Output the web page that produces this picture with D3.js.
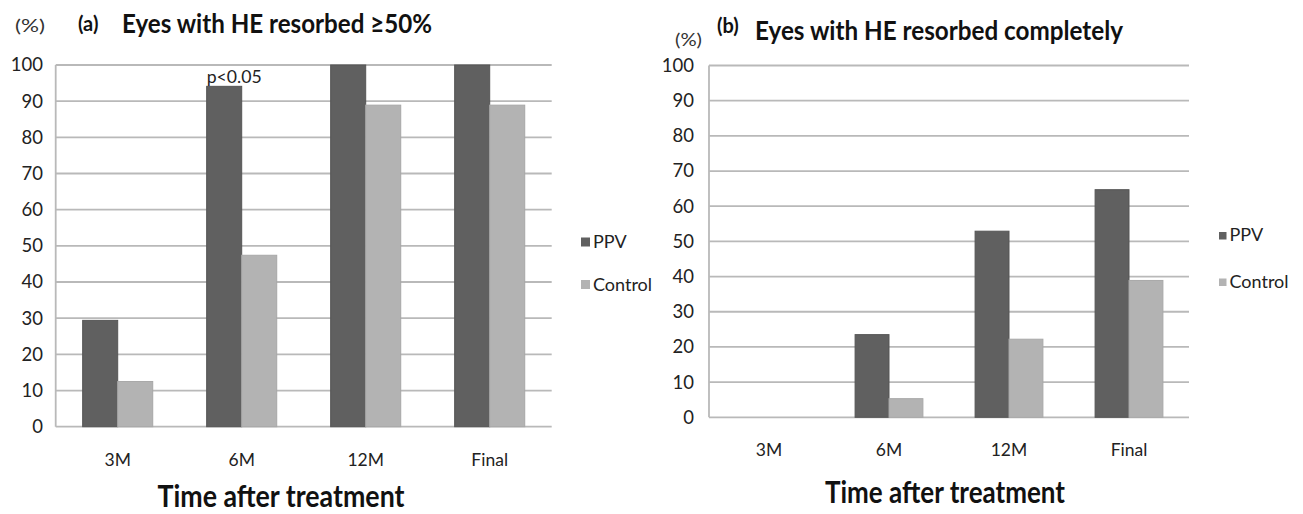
<!DOCTYPE html>
<html><head><meta charset="utf-8">
<script src="https://cdn.jsdelivr.net/npm/d3@7"></script>
<style>body{margin:0;background:#fff}svg{display:block}text{font-family:Lato,"Liberation Sans Narrow","DejaVu Sans Condensed",sans-serif}</style>
</head><body><svg id="c" width="1303" height="514"></svg>
<script>
const categories = ["3M", "6M", "12M", "Final"];
const seriesNames = ["PPV", "Control"];
const ppvA = [29.4, 94.1, 100, 100];
const controlA = [12.5, 47.4, 88.9, 88.9];
const ppvB = [0, 23.5, 52.9, 64.7];
const controlB = [0, 5.3, 22.2, 38.9];
const yTicks = [0, 10, 20, 30, 40, 50, 60, 70, 80, 90, 100];
const annotationA = "p<0.05";

const colors = {PPV: "#606060", Control: "#b3b3b3"};
const svg = d3.select("#c");

const panels = [
  {ppv: ppvA, ctl: controlA, x0: 55.7, x1: 551.7, yTop: 65, yBot: 426.7,
   tag: "(a)", title: "Eyes with HE resorbed \u226550%",
   tagX: 78, tagY: 31, titleX: 122, titleY: 33, titleW: 310, titleFs: 26,
   pctX: 15, pctY: 32, pctW: 30, ylabX: 43, xlabY: 466, axTitleY: 507, axTitleW: 247, axTitleX: 281,
   legX: 581, legY: [237.5, 280], legSq: 9, note: true},
  {ppv: ppvB, ctl: controlB, x0: 709, x1: 1189, yTop: 65.5, yBot: 417.3,
   tag: "(b)", title: "Eyes with HE resorbed completely",
   tagX: 717, tagY: 33, titleX: 755, titleY: 40, titleW: 368, titleFs: 27,
   pctX: 675, pctY: 46, pctW: 27, ylabX: 694, xlabY: 456, axTitleY: 503, axTitleW: 240, axTitleX: 945,
   legX: 1219, legY: [232, 278.5], legSq: 7.5, note: false}
];

panels.forEach(p => {
  const g = svg.append("g");
  const x = d3.scaleBand().domain(categories).range([p.x0, p.x1]).paddingInner(0.435).paddingOuter(0.2175);
  const xs = d3.scaleBand().domain(seriesNames).range([0, x.bandwidth()]);
  const y = d3.scaleLinear().domain([0, 100]).range([p.yBot, p.yTop]);

  g.selectAll(".grid").data(yTicks).join("line")
    .attr("x1", p.x0).attr("x2", p.x1)
    .attr("y1", d => y(d)).attr("y2", d => y(d))
    .attr("stroke", "#b9b9b9").attr("stroke-width", 1.8);
  g.append("line").attr("x1", p.x0).attr("x2", p.x0).attr("y1", y(100)).attr("y2", y(0))
    .attr("stroke", "#b9b9b9").attr("stroke-width", 1.8);

  const yAxis = d3.axisLeft(y).tickValues(yTicks).tickSize(0).tickPadding(0);
  const ya = g.append("g").attr("transform", `translate(${p.ylabX},0)`).call(yAxis);
  ya.select(".domain").remove();
  ya.selectAll("text").attr("font-size", 18.5).attr("fill", "#222").style("font-family", "Lato, sans-serif");

  const xAxis = d3.axisBottom(x).tickSize(0).tickPadding(0);
  const xa = g.append("g").attr("transform", `translate(0,${p.xlabY})`).call(xAxis);
  xa.select(".domain").remove();
  xa.selectAll("text").attr("font-size", 17.5).attr("fill", "#222").attr("dy", 0).style("font-family", "Lato, sans-serif");

  const rows = categories.map((c, i) => ({c, vals: [{s: "PPV", v: p.ppv[i]}, {s: "Control", v: p.ctl[i]}]}));
  const grp = g.selectAll(".grp").data(rows).join("g").attr("transform", d => `translate(${x(d.c)},0)`);
  grp.selectAll("rect").data(d => d.vals.filter(v => v.v > 0)).join("rect")
    .attr("x", d => xs(d.s)).attr("width", xs.bandwidth())
    .attr("y", d => y(d.v)).attr("height", d => y(0) - y(d.v))
    .attr("fill", d => colors[d.s])
    .attr("stroke", d => d.s === "PPV" ? "#555" : "#a8a8a8").attr("stroke-width", 1);

  if (p.note) {
    g.append("text").attr("x", x("6M") + xs("PPV")).attr("y", 83)
      .attr("font-size", 18).attr("fill", "#222").attr("textLength", 55).attr("lengthAdjust", "spacingAndGlyphs")
      .text(annotationA);
  }

  seriesNames.forEach((s, i) => {
    g.append("rect").attr("x", p.legX).attr("y", p.legY[i]).attr("width", p.legSq).attr("height", p.legSq)
      .attr("fill", colors[s]);
    g.append("text").attr("x", p.legX + p.legSq + 3).attr("y", p.legY[i] + p.legSq + 1.5)
      .attr("font-size", 18).attr("fill", "#222").text(s);
  });

  g.append("text").attr("x", p.pctX).attr("y", p.pctY).attr("font-size", 18).attr("fill", "#333")
    .attr("textLength", p.pctW).attr("lengthAdjust", "spacingAndGlyphs").text("(%)");
  g.append("text").attr("x", p.tagX).attr("y", p.tagY).attr("font-size", 20).attr("font-weight", "bold")
    .attr("fill", "#111").text(p.tag);
  g.append("text").attr("x", p.titleX).attr("y", p.titleY).attr("font-size", p.titleFs).attr("font-weight", "bold")
    .attr("fill", "#111").attr("textLength", p.titleW).attr("lengthAdjust", "spacingAndGlyphs").text(p.title);
  g.append("text").attr("x", p.axTitleX).attr("y", p.axTitleY).attr("text-anchor", "middle")
    .attr("font-size", 30).attr("font-weight", "bold").attr("fill", "#111")
    .attr("textLength", p.axTitleW).attr("lengthAdjust", "spacingAndGlyphs").text("Time after treatment");
});
</script></body></html>
